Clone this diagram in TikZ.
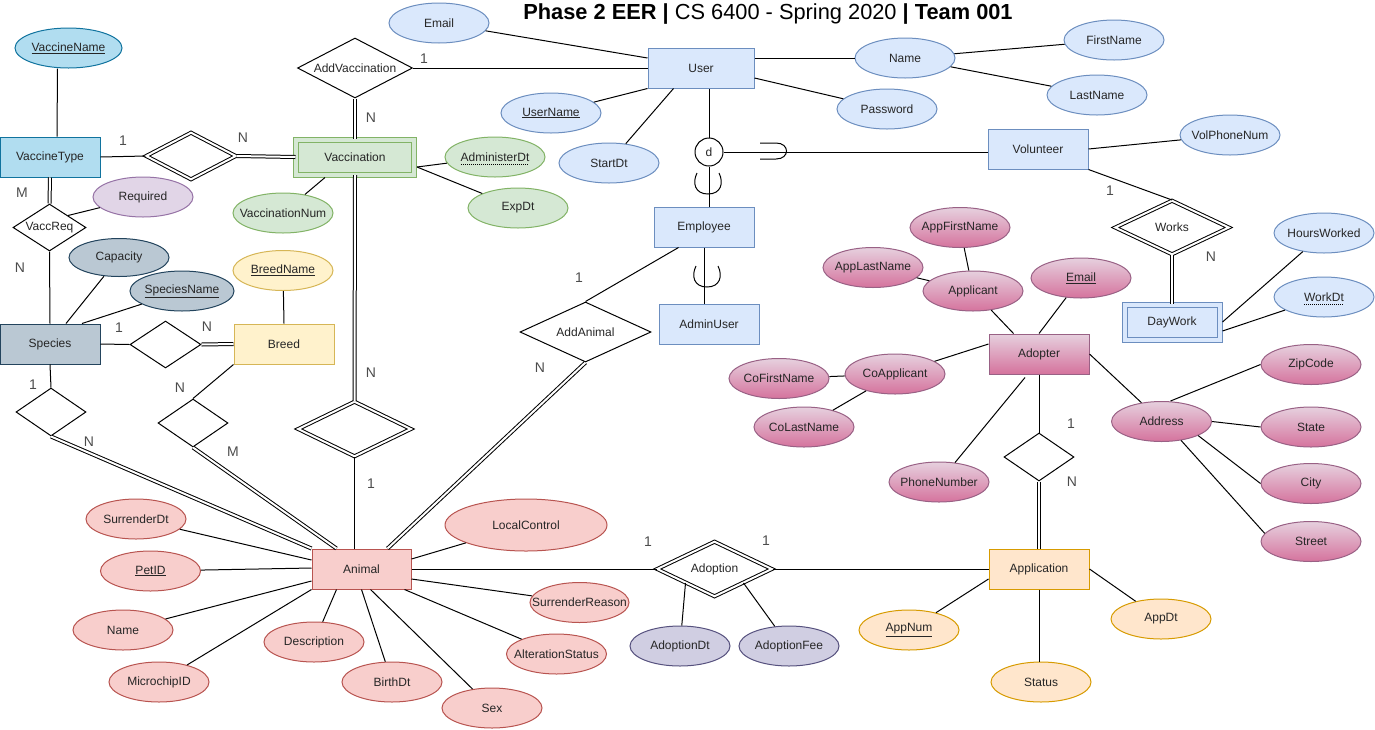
\documentclass[tikz,border=0pt]{standalone}
\usepackage{fontspec}
\setmainfont{Liberation Sans}
\usetikzlibrary{shapes.geometric,calc}

% palette
\definecolor{blueF}{HTML}{DAE8FC}\definecolor{blueD}{HTML}{6C8EBF}
\definecolor{vtF}{HTML}{B1DDF0}\definecolor{vtD}{HTML}{10739E}
\definecolor{greenF}{HTML}{D5E8D4}\definecolor{greenD}{HTML}{82B366}
\definecolor{purpF}{HTML}{E1D5E7}\definecolor{purpD}{HTML}{9673A6}
\definecolor{specF}{HTML}{BAC8D3}\definecolor{specD}{HTML}{23445D}
\definecolor{yelF}{HTML}{FFF2CC}\definecolor{yelD}{HTML}{D6B656}
\definecolor{redF}{HTML}{F8CECC}\definecolor{redD}{HTML}{B85450}
\definecolor{lavF}{HTML}{D0CEE2}\definecolor{lavD}{HTML}{56517E}
\definecolor{orF}{HTML}{FFE6CC}\definecolor{orD}{HTML}{D79B00}
\definecolor{pinkT}{HTML}{E6D0DE}\definecolor{pinkB}{HTML}{D5739D}\definecolor{pinkD}{HTML}{996185}

% zero-width centred text, so shapes keep their set size
\newcommand{\zw}[1]{\makebox[0pt][c]{#1}}

\tikzset{
  ent/.style={rectangle, draw, minimum width=100pt, minimum height=40pt, inner sep=0pt},
  attr/.style={ellipse, draw, minimum width=100pt, minimum height=40pt, inner sep=0pt},
  rel/.style={diamond, draw, fill=white, inner sep=0pt, aspect=2},
  idrel/.style={rel, double, double distance=2pt},
  dbl/.style={double, double distance=2pt},
  card/.style={font=\fontsize{14}{16}\selectfont, text=black!70},
  blueent/.style={ent, fill=blueF, draw=blueD},
  blueattr/.style={attr, fill=blueF, draw=blueD},
  redattr/.style={attr, fill=redF, draw=redD},
  pinkattr/.style={attr, draw=pinkD, top color=pinkT, bottom color=pinkB},
  orattr/.style={attr, fill=orF, draw=orD},
  greenattr/.style={attr, fill=greenF, draw=greenD},
  lavattr/.style={attr, fill=lavF, draw=lavD},
  specattr/.style={attr, fill=specF, draw=specD},
}

\begin{document}
\begin{tikzpicture}[x=1pt, y=-1pt, line width=1pt,
  every node/.style={font=\fontsize{12}{14}\selectfont, text=black!85}]
\useasboundingbox (0,0) rectangle (1375,729);

% title
\node[text=black] (title) at (768,14) {\fontsize{21.8}{26}\selectfont\textbf{Phase 2 EER |} CS 6400 - Spring 2020 \textbf{| Team 001}};

% ---------- entities ----------
\node[ent, fill=vtF, draw=vtD] (VT) at (50,157) {VaccineType};
\node[ent, fill=greenF, draw=greenD, double=greenF, double distance=4pt,
      minimum width=118pt, minimum height=35pt] (Vacc) at (355,157) {Vaccination};
\node[blueent, minimum width=106pt] (User) at (701,68) {User};
\node[blueent] (Volunteer) at (1038,149) {Volunteer};
\node[blueent] (Employee) at (704,227) {Employee};
\node[blueent] (AdminUser) at (709,324) {AdminUser};
\node[ent, fill=blueF, draw=blueD, double=blueF, double distance=4pt,
      minimum width=95pt, minimum height=35pt] (DayWork) at (1172,322) {DayWork};
\node[ent, draw=pinkD, top color=pinkT, bottom color=pinkB] (Adopter) at (1039,354) {Adopter};
\node[ent, fill=specF, draw=specD] (Species) at (50,344) {Species};
\node[ent, fill=yelF, draw=yelD] (Breed) at (284,344) {Breed};
\node[ent, fill=redF, draw=redD, minimum width=99pt] (Animal) at (361.5,569) {Animal};
\node[ent, fill=orF, draw=orD] (Application) at (1039,569) {Application};

% disjoint specialisation circle
\node[circle, draw, fill=white, minimum size=28pt, inner sep=0pt] (dcirc) at (709,152) {d};

% ---------- relationships ----------
\node[rel, minimum width=115pt, minimum height=60pt] (AddVacc) at (355,68) {\zw{AddVaccination}};
\node[idrel, minimum width=90pt, minimum height=47pt] (RelVV) at (191,156) {};
\node[rel, minimum width=73pt, minimum height=47pt] (VaccReq) at (49.5,227.5) {\zw{VaccReq}};
\node[rel, minimum width=71pt, minimum height=47pt] (RelSB) at (165.5,344.5) {};
\node[rel, minimum width=70pt, minimum height=48pt] (RelSA) at (51,412) {};
\node[rel, minimum width=70pt, minimum height=48pt] (RelBA) at (193,423) {};
\node[idrel, minimum width=113pt, minimum height=55pt] (RelVA) at (354.5,429) {};
\node[rel, minimum width=131pt, minimum height=60pt] (AddAnimal) at (585.5,332) {\zw{AddAnimal}};
\node[idrel, minimum width=114pt, minimum height=54pt] (Works) at (1172,227.5) {\zw{Works}};
\node[rel, minimum width=70pt, minimum height=48pt] (RelAA) at (1039,457) {};
\node[idrel, minimum width=115pt, minimum height=55pt] (Adoption) at (714.5,569) {\zw{Adoption}};

% ---------- attributes ----------
\node[attr, fill=vtF, draw=vtD, minimum width=107pt] (VaccineName) at (68.5,48) {\zw{\underline{VaccineName}}};
\node[blueattr] (Email) at (439,23) {\zw{Email}};
\node[blueattr] (UserName) at (551,113) {\zw{\underline{UserName}}};
\node[blueattr] (StartDt) at (609,163) {\zw{StartDt}};
\node[blueattr] (UName) at (905,58) {\zw{Name}};
\node[blueattr] (FirstName) at (1114,40) {\zw{FirstName}};
\node[blueattr] (LastName) at (1097,95) {\zw{LastName}};
\node[blueattr] (Password) at (887,109) {\zw{Password}};
\node[blueattr] (VolPhoneNum) at (1230,135) {\zw{VolPhoneNum}};
\node[blueattr] (HoursWorked) at (1324,233) {\zw{HoursWorked}};
\node[blueattr] (WorkDt) at (1324,297) {\zw{WorkDt}};

\node[greenattr] (VaccinationNum) at (283,213) {\zw{VaccinationNum}};
\node[greenattr] (AdministerDt) at (495,157) {\zw{AdministerDt}};
\node[greenattr] (ExpDt) at (518,208) {\zw{ExpDt}};
\node[attr, fill=purpF, draw=purpD] (Required) at (143,197) {\zw{Required}};

\node[specattr, minimum height=38pt] (Capacity) at (119,257.5) {\zw{Capacity}};
\node[specattr, minimum width=104pt] (SpeciesName) at (182,291) {\zw{\underline{SpeciesName}}};
\node[attr, fill=yelF, draw=yelD] (BreedName) at (283,270.5) {\zw{\underline{BreedName}}};

\node[redattr] (SurrenderDt) at (136,519) {\zw{SurrenderDt}};
\node[redattr] (PetID) at (150.5,571) {\zw{\underline{PetID}}};
\node[redattr] (AName) at (123,630) {\zw{Name}};
\node[redattr] (MicrochipID) at (159,682) {\zw{MicrochipID}};
\node[redattr] (Description) at (314,642) {\zw{Description}};
\node[redattr] (BirthDt) at (392,682) {\zw{BirthDt}};
\node[redattr] (Sex) at (492,708) {\zw{Sex}};
\node[redattr, minimum width=162pt, minimum height=52pt] (LocalControl) at (526,525) {\zw{LocalControl}};
\node[redattr, minimum width=99pt] (SurrenderReason) at (579.5,602.5) {\zw{SurrenderReason}};
\node[redattr] (AlterationStatus) at (556.5,654) {\zw{AlterationStatus}};

\node[lavattr] (AdoptionDt) at (680,646) {\zw{AdoptionDt}};
\node[lavattr] (AdoptionFee) at (789,646) {\zw{AdoptionFee}};

\node[orattr] (AppNum) at (909,630) {\zw{\underline{AppNum}}};
\node[orattr] (Status) at (1041,682) {\zw{Status}};
\node[orattr] (AppDt) at (1161,619) {\zw{AppDt}};

\node[pinkattr] (AppFirstName) at (960,227.5) {\zw{AppFirstName}};
\node[pinkattr] (AppLastName) at (873,267.5) {\zw{AppLastName}};
\node[pinkattr] (Applicant) at (973,291) {\zw{Applicant}};
\node[pinkattr] (AdEmail) at (1081,278) {\zw{\underline{Email}}};
\node[pinkattr] (CoFirstName) at (779,378.5) {\zw{CoFirstName}};
\node[pinkattr] (CoApplicant) at (895,374) {\zw{CoApplicant}};
\node[pinkattr] (CoLastName) at (804,427) {\zw{CoLastName}};
\node[pinkattr] (PhoneNumber) at (939,482) {\zw{PhoneNumber}};
\node[pinkattr] (Address) at (1161.5,421.5) {\zw{Address}};
\node[pinkattr] (ZipCode) at (1311,364.5) {\zw{ZipCode}};
\node[pinkattr] (State) at (1311,427) {\zw{State}};
\node[pinkattr] (City) at (1311,483.5) {\zw{City}};
\node[pinkattr] (Street) at (1311,541.5) {\zw{Street}};

% dotted underlines of partial keys
\draw[line width=0.8pt, dash pattern=on 1pt off 1pt] ($(AdministerDt.center)+(-34,7)$) -- ($(AdministerDt.center)+(34,7)$);
\draw[line width=0.8pt, dash pattern=on 1pt off 1pt] ($(WorkDt.center)+(-20,7)$) -- ($(WorkDt.center)+(20,7)$);

% ---------- connectors: vaccines ----------
\draw ($(VT.north)+(7,0)$) -- ($(VaccineName.south)+(-11,0)$);
\draw (VT.east) -- (RelVV.west);
\draw[dbl] (RelVV.east) -- (Vacc.west);
\draw (AddVacc.east) -- (User.west |- AddVacc.east);
\draw[dbl] (AddVacc.south) -- (Vacc.north);
\draw[dbl] (Vacc.south) -- (RelVA.north);
\draw (RelVA.south) -- (RelVA.south |- Animal.north);
\draw ($(Vacc.south)+(-30,2.5)$) -- (VaccinationNum);
\draw ($(Vacc.east)+(2.5,10)$) -- (AdministerDt);
\draw ($(Vacc.east)+(2.5,10)$) -- (ExpDt);
\draw[dbl] (VT.south) -- (VaccReq.north);
\draw (VaccReq.north east) -- (Required);
\draw (VaccReq.south) -- (Species.north);

% ---------- connectors: species and breed ----------
\draw ($(Species.north)+(16,0)$) -- (Capacity);
\draw ($(Species.north)+(32,0)$) -- (SpeciesName);
\draw (Species.east) -- (RelSB.west);
\draw[dbl] (RelSB.east) -- (Breed.west);
\draw (BreedName) -- (Breed.north);
\draw (Species.south) -- (RelSA.north);
\draw[dbl] (RelSA.south) -- (Animal.north west);
\draw (Breed.south west) -- (RelBA.north);
\draw[dbl] (RelBA.south) -- ($(Animal.north west)+(25,0)$);

% ---------- connectors: user hierarchy ----------
\draw (Email) -- ($(User.west)+(0,-10)$);
\draw (UserName) -- (User.south west);
\draw (StartDt) -- ($(User.south west)+(26,0)$);
\draw ($(User.east)+(0,-10)$) -- (UName);
\draw ($(User.east)+(0,10)$) -- (Password);
\draw (UName) -- (FirstName);
\draw (UName) -- (LastName);
\draw (dcirc.north) -- (dcirc |- User.south);
\draw (dcirc.south) -- (dcirc |- Employee.north);
\draw (dcirc.east) -- (dcirc -| Volunteer.west);
\draw (Employee.south) -- (Employee.south |- AdminUser.north);
% subset marks
\draw (760,143) -- (776,143) .. controls (790,143) and (790,159) .. (776,159) -- (760,159);
\draw (697,173) .. controls (692,183) and (695,194) .. (708,194) .. controls (721,194) and (724,183) .. (719,173);
\draw (696,266) .. controls (691,276) and (694,287) .. (707,287) .. controls (720,287) and (723,276) .. (718,266);
\draw (Volunteer.east) -- (VolPhoneNum);
\draw (Volunteer.south east) -- (Works.north);
\draw[dbl] (Works.south) -- (DayWork.north);
\draw ($(DayWork.east)+(2.5,0)$) -- (HoursWorked);
\draw ($(DayWork.east)+(2.5,9)$) -- (WorkDt);
\draw ($(Employee.south west)+(25,0)$) -- (AddAnimal.north);
\draw[dbl] (AddAnimal.south) -- ($(Animal.north east)+(-24,0)$);

% ---------- connectors: animal ----------
\draw (SurrenderDt) -- ($(Animal.west)+(0,-9)$);
\draw (PetID) -- ($(Animal.west)+(0,-1)$);
\draw (AName) -- ($(Animal.west)+(0,12)$);
\draw (MicrochipID) -- (Animal.south west);
\draw (Description) -- ($(Animal.south west)+(25,0)$);
\draw (BirthDt) -- (Animal.south);
\draw (Sex) -- ($(Animal.south)+(9,0)$);
\draw (AlterationStatus) -- ($(Animal.south east)+(-7,0)$);
\draw (SurrenderReason) -- ($(Animal.east)+(0,10)$);
\draw (LocalControl) -- ($(Animal.east)+(0,-10)$);
\draw (Animal.east) -- (Adoption.west);
\draw (Adoption.east) -- (Application.west);
\draw (Adoption.south west) -- (AdoptionDt);
\draw (Adoption.south east) -- (AdoptionFee);

% ---------- connectors: application and adopter ----------
\draw ($(Application.west)+(0,10)$) -- (AppNum);
\draw (Application.south) -- (Application.south |- Status.north);
\draw (Application.east) -- (AppDt);
\draw (Adopter.south) -- (RelAA.north);
\draw[dbl] (RelAA.south) -- (Application.north);
\draw ($(Adopter.south)+(-14,3)$) -- (PhoneNumber);
\draw ($(Adopter.west)+(0,-10)$) -- (CoApplicant);
\draw (CoApplicant) -- (CoFirstName);
\draw (CoApplicant) -- (CoLastName);
\draw ($(Adopter.north west)+(25,0)$) -- (Applicant);
\draw (Applicant) -- (AppFirstName);
\draw (Applicant) -- (AppLastName);
\draw (Adopter.north) -- (AdEmail);
\draw (Adopter.east) -- (Address);
\draw ($(Address.north)+(9,0)$) -- (ZipCode.west);
\draw (Address.east) -- (State.west);
\draw (Address.-21) -- (City.west);
\draw (Address.-44) -- (Street.170);

% ---------- cardinalities ----------
\node[card] (c1) at (123,141) {1};
\node[card] (c2) at (243,138) {N};
\node[card] (c3) at (424,59) {1};
\node[card] (c4) at (371,118) {N};
\node[card] (c5) at (371,373) {N};
\node[card] (c6) at (371,484) {1};
\node[card] (c7) at (22,193) {M};
\node[card] (c8) at (20,268) {N};
\node[card] (c9) at (119,328) {1};
\node[card] (c10) at (207,327) {N};
\node[card] (c11) at (33,385) {1};
\node[card] (c12) at (89,442) {N};
\node[card] (c13) at (180,388) {N};
\node[card] (c14) at (233,452) {M};
\node[card] (c15) at (579,278) {1};
\node[card] (c16) at (540,368) {N};
\node[card] (c17) at (648,542) {1};
\node[card] (c18) at (766,541) {1};
\node[card] (c19) at (1071,424) {1};
\node[card] (c20) at (1072,482) {N};
\node[card] (c21) at (1110,191) {1};
\node[card] (c22) at (1211,257) {N};
\end{tikzpicture}
\end{document}
